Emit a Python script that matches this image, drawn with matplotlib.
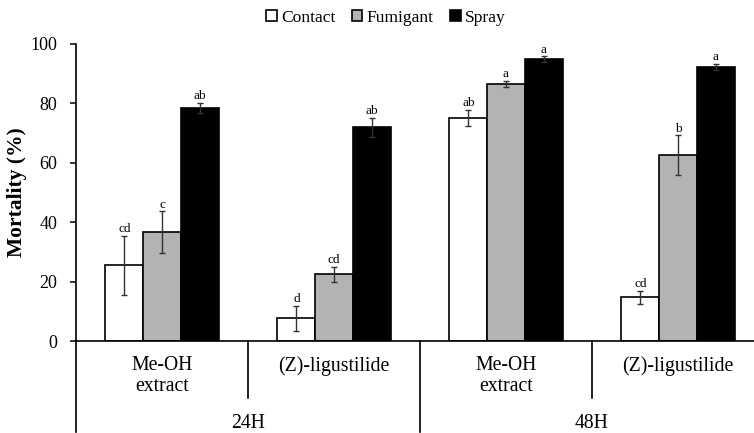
import matplotlib
matplotlib.use("Agg")
import matplotlib.pyplot as plt
from matplotlib.patches import Patch
from matplotlib.transforms import blended_transform_factory
import numpy as np

plt.rcParams['font.family'] = ['Liberation Serif', 'DejaVu Serif']

series = ["Contact", "Fumigant", "Spray"]
colors = ["white", "#b3b3b3", "black"]
groups = ["Me-OH\nextract", "(Z)-ligustilide", "Me-OH\nextract", "(Z)-ligustilide"]
times = ["24H", "48H"]

contact = [25.5, 7.7, 75.1, 14.7]
fumigant = [36.7, 22.4, 86.6, 62.5]
spray = [78.5, 72.0, 94.8, 92.4]
contact_err = [10.0, 4.2, 2.8, 2.2]
fumigant_err = [7.0, 2.5, 1.0, 6.7]
spray_err = [1.8, 3.2, 1.0, 1.0]
contact_lbl = ["cd", "d", "ab", "cd"]
fumigant_lbl = ["c", "cd", "a", "b"]
spray_lbl = ["ab", "ab", "a", "a"]

values = [contact, fumigant, spray]
errs = [contact_err, fumigant_err, spray_err]
lbls = [contact_lbl, fumigant_lbl, spray_lbl]

fig = plt.figure(figsize=(7.54, 4.33), dpi=100)
ax = fig.add_axes([76/754, 92/433, 688/754, 297/433])

x = np.arange(len(groups))
w = 0.219
for i in range(3):
    xs = x + (i - 1) * w
    ax.bar(xs, values[i], w, color=colors[i], edgecolor="black", linewidth=1.2, zorder=2)
    ax.errorbar(xs, values[i], yerr=errs[i], fmt="none", ecolor="#333333",
                elinewidth=1.0, capsize=2.2, capthick=1.0, zorder=3)
    for xi, v, e, t in zip(xs, values[i], errs[i], lbls[i]):
        ax.annotate(t, (xi, v + e), xytext=(0, 0.5), textcoords="offset points",
                    ha="center", va="bottom", fontsize=9.5)

ax.set_xlim(-0.5, 3.5)
ax.set_ylim(0, 100)
ax.set_yticks([0, 20, 40, 60, 80, 100])
ax.tick_params(axis="y", direction="out", length=4.5, width=1.1, labelsize=13, pad=9)
ax.set_xticks([])
for s in ["top", "right"]:
    ax.spines[s].set_visible(False)
for s in ["left", "bottom"]:
    ax.spines[s].set_linewidth(1.2)
ax.set_ylabel("Mortality (%)", fontsize=15.5, fontweight="bold")
ax.yaxis.label.set_va("center")
ax.yaxis.set_label_coords((17 - 76) / 688, 0.5)

tr = blended_transform_factory(ax.transData, fig.transFigure)
ybase = 1 - 341/433
for xd in [0.5, 2.5]:
    ax.plot([xd, xd], [ybase, 1 - 398/433], transform=tr, color="black", lw=1.2, clip_on=False)
for xd in [-0.5, 1.5, 3.5]:
    ax.plot([xd, xd], [ybase, 1 - 432/433], transform=tr, color="black", lw=1.2, clip_on=False)

for xi, g in zip(x, groups):
    ax.text(xi, 1 - 356/433, g, transform=tr, ha="center", va="top", fontsize=14.2,
            linespacing=1.12)
for xi, t in zip([0.5, 2.5], times):
    ax.text(xi, 1 - 423/433, t, transform=tr, ha="center", va="center", fontsize=14.2)

handles = [Patch(facecolor=c, edgecolor="black", linewidth=1.2) for c in colors]
fig.legend(handles, series, loc="center", bbox_to_anchor=(386/754, 1 - 18/433), ncol=3,
           frameon=False, fontsize=12.6, handlelength=0.6, handleheight=0.6,
           handletextpad=0.25, columnspacing=0.95)

fig.savefig("out.png", dpi=100)
